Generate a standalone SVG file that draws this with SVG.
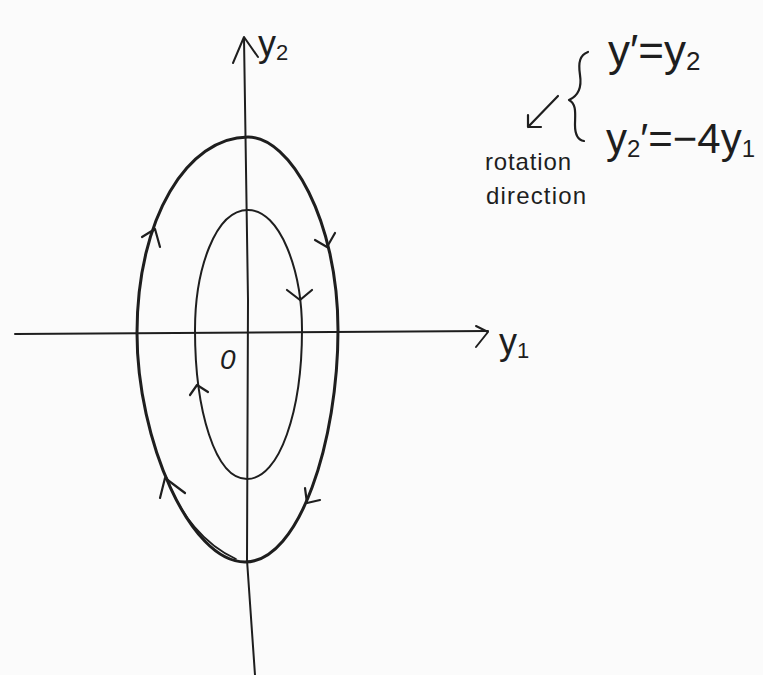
<svg xmlns="http://www.w3.org/2000/svg" width="763" height="675" viewBox="0 0 763 675">
<style>
.ln{fill:none;stroke:#1e1e1e;stroke-linecap:round;stroke-linejoin:round}
.ax{stroke-width:2}
.outer{stroke-width:3}
.inner{stroke-width:2}
.chev{stroke-width:2.2}
.t{font-family:"Liberation Sans","DejaVu Sans",sans-serif;fill:#1e1e1e}
</style>
<rect width="763" height="675" fill="#fbfbfb"/>
<g id="axes">
<path class="ln ax" d="M15 334 L 488 331"/>
<path class="ln ax" d="M476 326 L488 332 L476 347"/>
<path class="ln ax" d="M244 38 L248 300 L247 560 L255 675"/>
<path class="ln ax" d="M233 63 L244 37 L258 57"/>
<text class="t" x="258" y="56" font-size="36">y<tspan font-size="22" dy="4">2</tspan></text>
<text class="t" x="499" y="354" font-size="36">y<tspan font-size="22" dy="4">1</tspan></text>
<text class="t" x="220" y="369" font-size="28" font-style="italic">0</text>
</g>
<g id="outer-orbit">
<path class="ln outer" d="M248 137 C290 137,338 220,338 330 C338 440,300 562,245 562 C190 562,137 440,137 333 C137 217,188 137,248 137 Z"/>
<path class="ln" stroke-width="1.6" d="M167 478 C180 515,205 545,236 559"/>
<path class="ln chev" d="M142 237 L155 229 L160 247"/>
<path class="ln chev" d="M315 240 L327 247 L335 233"/>
<path class="ln chev" d="M305 488 L307 503 L320 500"/>
<path class="ln chev" d="M160 498 L165 478 L185 493"/>
</g>
<g id="inner-orbit">
<path class="ln inner" d="M248 210 C280 210,302 270,302 330 C302 410,280 479,247 479 C215 479,195 410,195 330 C195 270,215 210,248 210 Z"/>
<path class="ln chev" d="M287 290 L300 300 L312 290"/>
<path class="ln chev" d="M190 395 L197 385 L208 392"/>
</g>
<g id="equations">
<path class="ln" stroke-width="2.2" d="M588 52 C580 55,578 62,580 75 C582 88,578 96,569 100 C577 104,575 115,575 125 C575 135,578 140,584 141"/>
<text class="t" x="608" y="66" font-size="44">y′=y<tspan font-size="26" dy="4">2</tspan></text>
<text class="t" x="606" y="153" font-size="42">y<tspan font-size="24" dy="4">2</tspan><tspan dy="-4">′=−4y</tspan><tspan font-size="24" dy="4">1</tspan></text>
</g>
<g id="rotation-note">
<path class="ln chev" d="M558 96 L528 127 M528 115 L528 127 L541 127"/>
<text class="t" x="485" y="170" font-size="24" textLength="86">rotation</text>
<text class="t" x="486" y="204" font-size="24" textLength="100">direction</text>
</g>
</svg>
